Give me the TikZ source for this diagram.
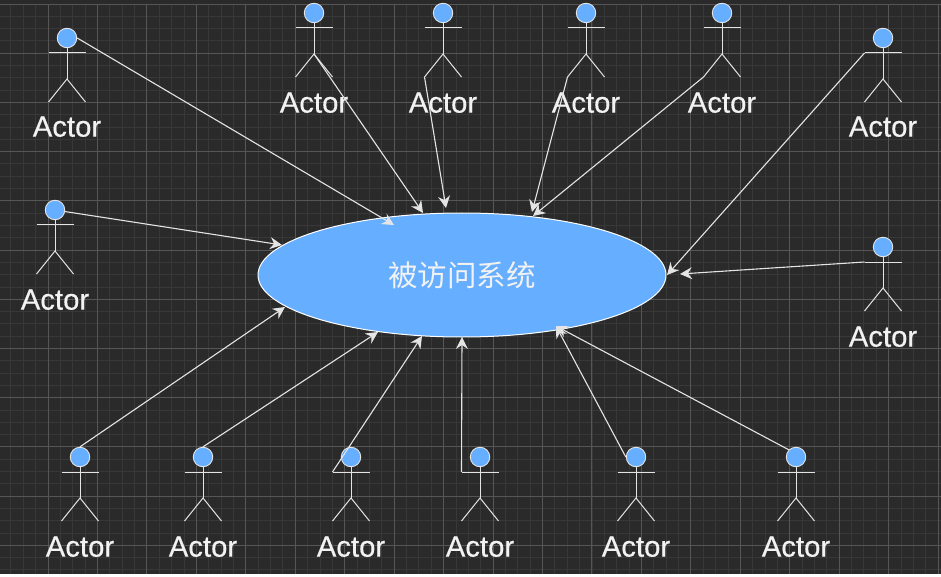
\documentclass[tikz,border=0pt]{standalone}
\usepackage{fontspec}
\setmainfont{Liberation Sans}
\newfontfamily\actorfont[FakeBold=0.5]{Liberation Sans}
\newfontfamily\cjkfont{Noto Sans CJK SC}
\usetikzlibrary{arrows.meta,shapes.geometric}
\definecolor{bgc}{HTML}{2A2A2A}
\definecolor{gridmajor}{HTML}{565656}
\definecolor{gridminor}{HTML}{383838}
\definecolor{fillblue}{HTML}{66AEFF}
\definecolor{linec}{HTML}{E4E4E4}
\definecolor{labelc}{HTML}{F2F2F2}
\tikzset{
  headnode/.style={circle,draw=linec,fill=fillblue,line width=0.9pt,minimum size=19.5pt,inner sep=0pt},
  limb/.style={draw=linec,line width=1pt},
  actorlabel/.style={text=labelc,font=\actorfont\fontsize{29.3}{30}\selectfont,inner sep=0pt},
  sysnode/.style={ellipse,draw=white,fill=fillblue,line width=1pt,minimum width=408pt,minimum height=124pt,inner sep=0pt,text=labelc,font=\cjkfont\fontsize{29.5}{31}\selectfont},
  conn/.style={draw=linec,line width=1.1pt,-{Stealth[length=12pt,width=12pt,inset=4pt]}}
}
\newcommand{\actorfig}[4]{%
  \node[headnode] (#1) at (#2,#3) {};
  \coordinate (#1-hip) at (#2,#3+41);
  \coordinate (#1-al) at (#2-18.5,#3+15);
  \coordinate (#1-ar) at (#2+18.5,#3+15);
  \coordinate (#1-fl) at (#2-18.5,#3+64);
  \coordinate (#1-fr) at (#2+18.5,#3+64);
  \draw[limb] (#1.south) -- (#1-hip);
  \draw[limb] (#1-al) -- (#1-ar);
  \draw[limb] (#1-fl) -- (#1-hip) -- (#1-fr);
  \node[actorlabel] (#1-t) at (#2,#3+#4) {Actor};
}
\begin{document}
\begin{tikzpicture}[x=1pt,y=-1pt]
\useasboundingbox (0,0) rectangle (941,577);
\fill[bgc] (0,0) rectangle (941,577);
\foreach \k in {0,...,75} {\draw[gridminor,line width=0.8pt] ({-1.5+12.3625*\k},4) -- ({-1.5+12.3625*\k},574);}
\foreach \k in {0,...,46} {\draw[gridminor,line width=0.8pt] (0,{4+12.3*\k}) -- (941,{4+12.3*\k});}
\foreach \k in {0,...,19} {\draw[gridmajor,line width=0.9pt] ({-1.5+49.45*\k},4) -- ({-1.5+49.45*\k},574);}
\foreach \k in {0,...,11} {\draw[gridmajor,line width=0.9pt] (0,{4+49.2*\k}) -- (941,{4+49.2*\k});}
\fill[white] (0,574) rectangle (941,577);

\node[sysnode] (sys) at (462,275) {被访问系统};

\actorfig{a1}{67}{38}{88.7}
\actorfig{a2}{314}{13}{89.7}
\actorfig{a3}{443}{13}{89.7}
\actorfig{a4}{586}{13}{89.7}
\actorfig{a5}{722}{13}{89.7}
\actorfig{a6}{883}{38}{88.7}
\actorfig{a7}{55}{210}{89.7}
\actorfig{a8}{883}{247}{89.7}
\actorfig{a9}{80}{457}{89.7}
\actorfig{a10}{203}{457}{89.7}
\actorfig{a11}{351}{457}{89.7}
\actorfig{a12}{480}{457}{89.7}
\actorfig{a13}{636}{457}{89.7}
\actorfig{a14}{796}{457}{89.7}

\coordinate (t1) at (394,225);
\coordinate (t2) at (423,213);
\coordinate (t3) at (446,208);
\coordinate (t4) at (532,212);
\coordinate (t5) at (533,216);
\coordinate (t6) at (667,275);
\coordinate (t7) at (282,245);
\coordinate (t8) at (680,274);
\coordinate (t9) at (285,307);
\coordinate (t10) at (378,332);
\coordinate (t11) at (422,336);
\coordinate (t12) at (462,337);
\coordinate (t13) at (556,326);
\coordinate (t14) at (556,326);

\draw[conn] (a1.east) -- (t1);
\draw[conn] (a2-hip) -- (t2);
\draw[conn] (a3-fl) -- (t3);
\draw[conn] (a4-fl) -- (t4);
\draw[conn] (a5-fl) -- (t5);
\draw[conn] (a6-al) -- (t6);
\draw[conn] (a7) -- (t7);
\draw[conn] (a8-al) -- (t8);
\draw[conn] (a9.north) -- (t9);
\draw[conn] (a10.north) -- (t10);
\draw[conn] (a11-al) -- (t11);
\draw[conn] (a12-al) -- (t12);
\draw[conn] (a13.west) -- (t13);
\draw[conn] (a14.north west) -- (t14);
\end{tikzpicture}
\end{document}
